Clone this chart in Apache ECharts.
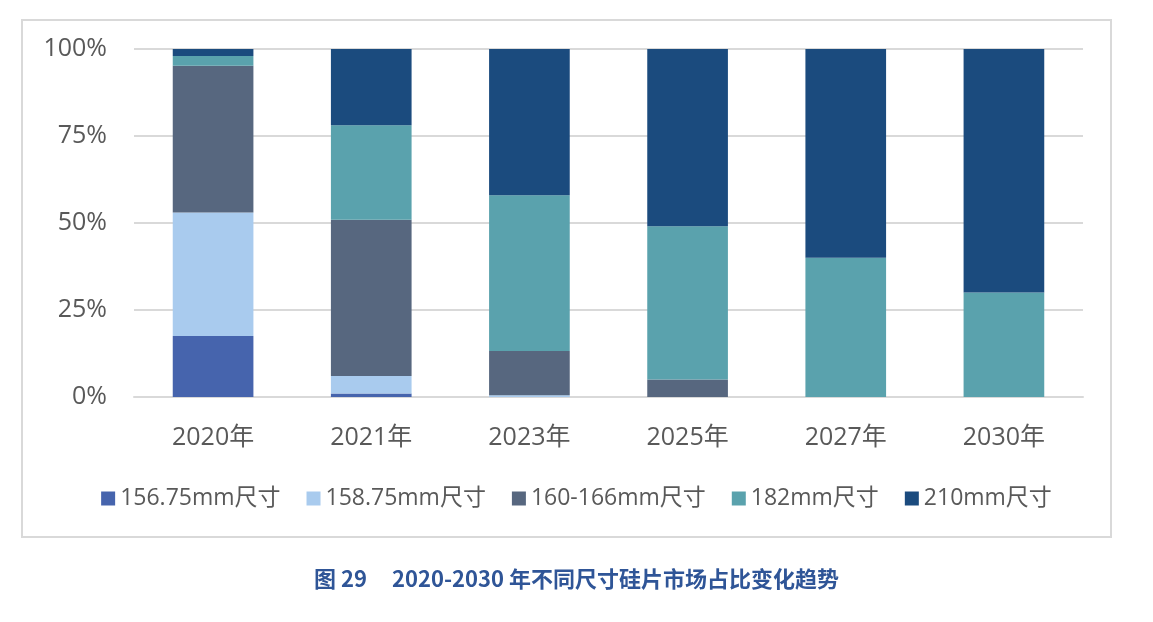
<!DOCTYPE html>
<html>
<head>
<meta charset="utf-8">
<script src="https://cdn.jsdelivr.net/npm/echarts@6/dist/echarts.min.js"></script>
<style>
  html, body { margin: 0; padding: 0; background: #fff; }
  #chart { width: 1153px; height: 622px; }
</style>
</head>
<body>
<div id="chart"></div>
<script>
// categories and shares (%)
var years = ['2020年', '2021年', '2023年', '2025年', '2027年', '2030年'];
var seriesNames = ['156.75mm尺寸', '158.75mm尺寸', '160-166mm尺寸', '182mm尺寸', '210mm尺寸'];
var s15675 = [17.5, 1.0, 0, 0, 0, 0];
var s15875 = [35.5, 5.0, 0.5, 0, 0, 0];
var s160166 = [42.2, 44.9, 12.7, 5.0, 0, 0];
var s182 = [2.8, 27.2, 44.8, 44.1, 40, 30];
var s210 = [2.0, 21.9, 42.0, 50.9, 60, 70];
var yTicks = [0, 25, 50, 75, 100];

var colors = ['#4664ad', '#a9cbee', '#57677f', '#5aa2ad', '#1b4b7e'];
var font = '"Open Sans", "Noto Sans CJK SC", sans-serif';

var chart = echarts.init(document.getElementById('chart'));

var seriesData = [s15675, s15875, s160166, s182, s210];
var series = seriesNames.map(function (name, i) {
  return {
    name: name,
    type: 'bar',
    stack: 'total',
    barWidth: '51%',
    itemStyle: { color: colors[i] },
    data: seriesData[i]
  };
});

var option = {
  animation: false,
  backgroundColor: '#fff',
  textStyle: { fontFamily: font },
  graphic: [
    {
      type: 'rect',
      shape: { x: 22, y: 20, width: 1089, height: 517 },
      style: { fill: 'none', stroke: '#d9d9d9', lineWidth: 2 },
      z: -1
    },
    {
      type: 'text',
      left: 'center',
      top: 568,
      style: {
        text: '图 29     2020-2030 年不同尺寸硅片市场占比变化趋势',
        fill: '#2f5597',
        font: 'bold 22px "Noto Sans CJK SC", sans-serif'
      }
    }
  ],
  grid: { left: 134, right: 70, top: 49, bottom: 225 },
  legend: {
    bottom: 107,
    left: 'center',
    itemWidth: 14,
    itemHeight: 14,
    itemGap: 26,
    icon: 'rect',
    textStyle: { fontSize: 23, color: '#595959', fontFamily: font },
    data: seriesNames
  },
  xAxis: {
    type: 'category',
    data: years,
    axisTick: { show: false },
    axisLine: { lineStyle: { color: '#d9d9d9', width: 2 } },
    axisLabel: { fontSize: 25, color: '#595959', margin: 28, fontFamily: font }
  },
  yAxis: {
    type: 'value',
    min: yTicks[0],
    max: yTicks[yTicks.length - 1],
    interval: 25,
    axisLine: { show: false },
    axisTick: { show: false },
    axisLabel: {
      fontSize: 25,
      color: '#595959',
      margin: 27,
      fontFamily: font,
      formatter: '{value}%'
    },
    splitLine: { lineStyle: { color: '#d9d9d9', width: 2 } }
  },
  series: series
};

chart.setOption(option);
</script>
</body>
</html>
